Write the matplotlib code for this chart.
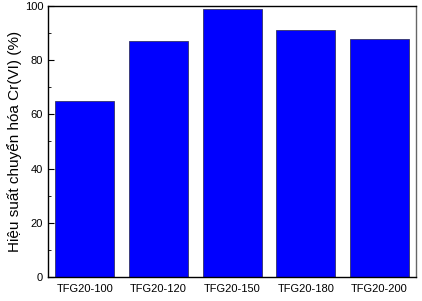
import matplotlib
matplotlib.use('Agg')
import matplotlib.pyplot as plt
from matplotlib.ticker import MultipleLocator

samples = ['TFG20-100', 'TFG20-120', 'TFG20-150', 'TFG20-180', 'TFG20-200']
efficiency = [65, 87, 99, 91, 88]

plt.rcParams['font.family'] = ['Liberation Sans', 'DejaVu Sans']

fig = plt.figure(figsize=(4.22, 3.01), dpi=100)
ax = fig.add_axes([0.114, 0.08, 0.872, 0.90])

ax.bar(range(len(samples)), efficiency, width=0.8, color='#0000ff',
       edgecolor='#333366', linewidth=0.6)

ax.set_xlim(-0.5, 4.5)
ax.set_ylim(0, 100)
ax.set_xticks(range(len(samples)))
ax.set_xticklabels(samples, fontsize=8)
ax.yaxis.set_major_locator(MultipleLocator(20))
ax.yaxis.set_minor_locator(MultipleLocator(10))
ax.tick_params(axis='y', direction='in', labelsize=8, length=4, width=0.8)
ax.tick_params(axis='y', which='minor', direction='in', length=2)
ax.tick_params(axis='x', length=0, pad=5)
ax.set_ylabel('Hiệu suất chuyển hóa Cr(VI) (%)', fontsize=11, labelpad=2)

for s in ax.spines.values():
    s.set_linewidth(1.0)
ax.spines['right'].set_color('#666666')

fig.savefig('out.png', dpi=100)
